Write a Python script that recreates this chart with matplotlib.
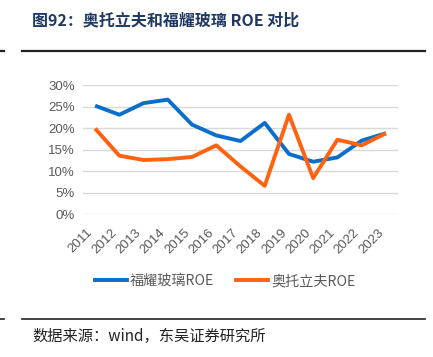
import matplotlib
matplotlib.use("Agg")
import matplotlib.pyplot as plt
from matplotlib.ticker import PercentFormatter
from matplotlib.lines import Line2D

years = ["2011", "2012", "2013", "2014", "2015", "2016", "2017",
         "2018", "2019", "2020", "2021", "2022", "2023"]
fuyao_roe = [25.2, 23.1, 25.8, 26.6, 20.8, 18.3, 17.0, 21.2, 14.0, 12.2, 13.2, 17.1, 18.8]
autoliv_roe = [19.9, 13.6, 12.6, 12.8, 13.3, 16.0, 11.1, 6.6, 23.1, 8.4, 17.3, 16.0, 18.8]
series_names = ["福耀玻璃ROE", "奥托立夫ROE"]
yticks = [0, 5, 10, 15, 20, 25, 30]
title = "图92：奥托立夫和福耀玻璃 ROE 对比"
source = "数据来源：wind，东吴证券研究所"

cjk = ["Noto Sans CJK SC", "DejaVu Sans"]
plt.rcParams["font.family"] = ["Liberation Sans", "Noto Sans CJK SC", "DejaVu Sans"]

W, H = 433, 357
fig = plt.figure(figsize=(W / 100, H / 100), dpi=100)
ax = fig.add_axes([83 / W, 1 - 214.3 / H, (398 - 83) / W, (214.3 - 85) / H])

blue = "#0A6FCB"
orange = "#FF6210"
x = list(range(len(years)))
ax.plot(x, fuyao_roe, color=blue, lw=2.8, solid_capstyle="butt", zorder=3)
ax.plot(x, autoliv_roe, color=orange, lw=2.8, solid_capstyle="butt", zorder=4)

ax.set_xlim(-0.5, len(years) - 0.5)
ax.set_ylim(0, 30)
ax.set_yticks(yticks)
ax.yaxis.set_major_formatter(PercentFormatter(decimals=0))
ax.set_xticks(x)
ax.set_xticklabels(years, rotation=45, ha="right", va="top")
ax.tick_params(axis="both", length=0, labelsize=9.5, colors="#595959")
ax.tick_params(axis="y", pad=6)
ax.tick_params(axis="x", pad=9)
ax.grid(axis="y", color="#D9D9D9", lw=1)
ax.set_axisbelow(True)
for s in ax.spines.values():
    s.set_visible(False)

handles = [Line2D([], [], color=blue, lw=2.8), Line2D([], [], color=orange, lw=2.8)]
leg = fig.legend(handles, series_names, loc="center", bbox_to_anchor=(225 / W, 1 - 281 / H),
                 ncol=2, frameon=False, handlelength=2.3, handletextpad=0.2,
                 columnspacing=1.5, prop={"family": cjk, "size": 10.2})
for t in leg.get_texts():
    t.set_color("#595959")

fig.text(32 / W, 1 - 20 / H, title, fontsize=11.5, fontweight="bold", color="#1F3864",
         family=cjk, va="center", ha="left")
fig.add_artist(Line2D([0 / W, 4 / W], [1 - 50.7 / H] * 2, color="#222222", lw=1.6))
fig.add_artist(Line2D([22 / W, 425 / W], [1 - 50.7 / H] * 2, color="#222222", lw=1.6))
fig.add_artist(Line2D([0 / W, 4 / W], [1 - 319 / H] * 2, color="#222222", lw=1.2))
fig.add_artist(Line2D([22 / W, 425 / W], [1 - 319 / H] * 2, color="#222222", lw=1.2))
fig.text(32 / W, 1 - 336 / H, source, fontsize=11, color="#222222", family=cjk,
         va="center", ha="left")

fig.savefig("out.png", dpi=100)
